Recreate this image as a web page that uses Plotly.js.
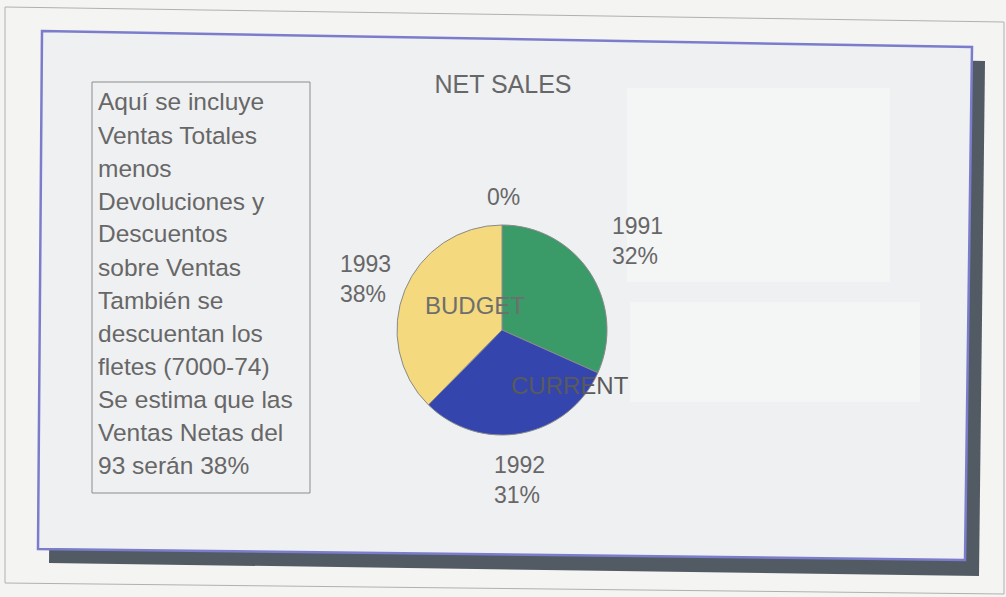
<!DOCTYPE html>
<html>
<head>
<meta charset="utf-8">
<script src="https://cdn.plot.ly/plotly-3.0.1.min.js"></script>
<style>html,body{margin:0;padding:0;background:#f4f4f2;}#chart{width:1006px;height:597px;}</style>
</head>
<body>
<div id="chart"></div>
<script>
// ---- data ----
const years = ['1991', '1992', '1993'];
const shares = [32, 31, 38];
const sliceColors = ['#3a9a68', '#3446ad', '#f4d97e'];
const budgetShare = '0%';
const innerLabels = ['BUDGET', 'CURRENT'];
const chartTitle = 'NET SALES';
const noteLines = [
  'Aquí se incluye',
  'Ventas Totales',
  'menos',
  'Devoluciones y',
  'Descuentos',
  'sobre Ventas',
  'También se',
  'descuentan los',
  'fletes (7000-74)',
  'Se estima que las',
  'Ventas Netas del',
  '93 serán 38%'
];

// ---- layout helpers (pixel positions) ----
const W = 1006, H = 597;
const px = x => x / W;
const py = y => 1 - y / H;
const FONT = 'Liberation Sans, Arial, sans-serif';
const TXT = '#676767';

const cx = 502, cy = 330, r = 105;
const labelPos = [[610, 241], [492, 480], [338, 279]];

const trace = {
  type: 'pie',
  labels: years,
  values: shares,
  sort: false,
  direction: 'clockwise',
  rotation: 0,
  marker: {colors: sliceColors, line: {color: '#8a8a8a', width: 1}},
  textinfo: 'none',
  hoverinfo: 'label+percent',
  showlegend: false,
  domain: {x: [px(cx - r), px(cx + r)], y: [py(cy + r), py(cy - r)]}
};

function poly(pts) {
  return 'M ' + pts.map(p => px(p[0]) + ',' + py(p[1])).join(' L ') + ' Z';
}

const shapes = [
  // outer page border
  {type: 'path', xref: 'paper', yref: 'paper', path: poly([[5, 7], [1004, 22], [1004, 594], [5, 583]]),
   line: {color: '#b0b0b0', width: 1}, fillcolor: 'rgba(0,0,0,0)', layer: 'below'},
  // shadow
  {type: 'path', xref: 'paper', yref: 'paper', path: poly([[54, 45], [985, 61], [979, 576], [49, 563]]),
   line: {width: 0}, fillcolor: '#525a64', layer: 'below'},
  // frame
  {type: 'path', xref: 'paper', yref: 'paper', path: poly([[42, 31], [972, 47], [965, 560], [38, 549]]),
   line: {color: '#7b7dcc', width: 2.5}, fillcolor: '#eff0f2', layer: 'below'},
  // faint ghost boxes (show-through from the reverse page)
  {type: 'rect', xref: 'paper', yref: 'paper', x0: px(627), x1: px(890), y0: py(88), y1: py(282),
   line: {width: 0}, fillcolor: '#f4f5f5', layer: 'below'},
  {type: 'rect', xref: 'paper', yref: 'paper', x0: px(630), x1: px(920), y0: py(302), y1: py(402),
   line: {width: 0}, fillcolor: '#f4f5f5', layer: 'below'},
  // note box
  {type: 'rect', xref: 'paper', yref: 'paper', x0: px(92), x1: px(310), y0: py(82), y1: py(493),
   line: {color: '#8c8c8c', width: 1}, fillcolor: 'rgba(0,0,0,0)', layer: 'below'}
];

const annotations = noteLines.map((t, i) => ({
  text: t, xref: 'paper', yref: 'paper', x: px(96), y: py(102 + 33 * i),
  xanchor: 'left', yanchor: 'middle', showarrow: false,
  font: {family: FONT, size: 24.5, color: TXT}
}));

const total = shares.reduce((a, b) => a + b, 0);
years.forEach((yr, i) => {
  annotations.push({
    text: yr + '<br>' + Math.round(shares[i] / total * 100) + '%',
    xref: 'paper', yref: 'paper', x: px(labelPos[i][0]), y: py(labelPos[i][1]),
    xanchor: 'left', yanchor: 'middle', align: 'left', showarrow: false,
    font: {family: FONT, size: 23, color: TXT}
  });
});

annotations.push(
  {text: budgetShare, xref: 'paper', yref: 'paper', x: px(503), y: py(197), xanchor: 'center', yanchor: 'middle',
   showarrow: false, font: {family: FONT, size: 23, color: TXT}},
  {text: innerLabels[0], xref: 'paper', yref: 'paper', x: px(475), y: py(305), xanchor: 'center', yanchor: 'middle',
   showarrow: false, font: {family: FONT, size: 24, color: '#6e6e6e'}},
  {text: innerLabels[1], xref: 'paper', yref: 'paper', x: px(570), y: py(385), xanchor: 'center', yanchor: 'middle',
   showarrow: false, font: {family: FONT, size: 24, color: '#5a5a5a'}}
);

const layout = {
  width: W, height: H,
  margin: {l: 0, r: 0, t: 0, b: 0},
  paper_bgcolor: '#f4f4f2',
  plot_bgcolor: '#f4f4f2',
  title: {text: chartTitle, x: px(503), y: py(84), xanchor: 'center', yanchor: 'middle',
          font: {family: FONT, size: 25, color: TXT}},
  shapes: shapes,
  annotations: annotations
};

Plotly.newPlot('chart', [trace], layout, {displayModeBar: false, staticPlot: true});
</script>
</body>
</html>
